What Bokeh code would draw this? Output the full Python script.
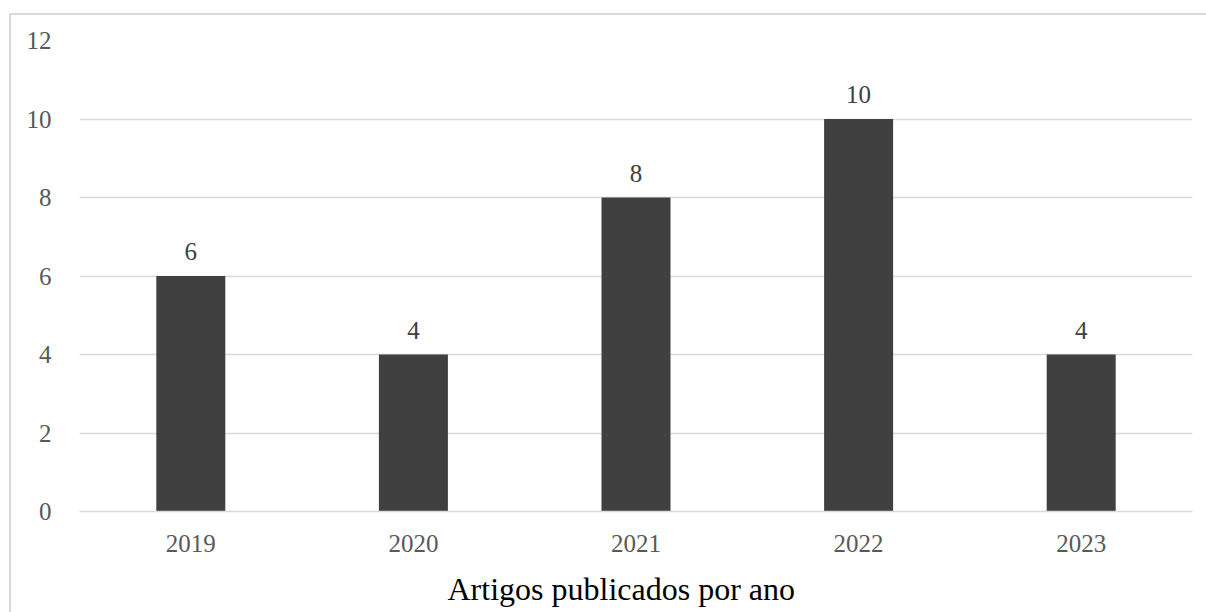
from bokeh.plotting import figure
from bokeh.models import ColumnDataSource, FactorRange, Range1d, LabelSet, SingleIntervalTicker, Title
from bokeh.embed import file_html
from bokeh.resources import INLINE

years = ["2019", "2020", "2021", "2022", "2023"]
counts = [6, 4, 8, 10, 4]
title_text = "Artigos publicados por ano"

FONT = "Liberation Serif"

src = ColumnDataSource(dict(x=years, y=counts, lbl=[str(c) for c in counts]))

p = figure(x_range=FactorRange(*years, range_padding=0), y_range=Range1d(0, 12),
           width=1198, height=603, output_backend="svg", toolbar_location=None,
           min_border_left=68, min_border_right=19, min_border_top=25, min_border_bottom=109)
p.styles = {"border-left": "2px solid #d9d9d9", "border-top": "2px solid #d9d9d9",
            "border-right": "0px none", "border-bottom": "0px none",
            "box-sizing": "content-box", "overflow": "hidden",
            "margin-left": "9px", "margin-top": "13px",
            "margin-bottom": "-24px", "margin-right": "-40px"}
p.outline_line_color = None
p.background_fill_color = "white"
p.border_fill_color = "white"

p.vbar(x="x", top="y", width=0.31, source=src, color="#404040", line_color=None)

labels = LabelSet(x="x", y="y", text="lbl", source=src, y_offset=16, text_align="center",
                  text_baseline="bottom", text_font=FONT, text_font_size="25px",
                  text_color="#404040")
p.add_layout(labels)

p.yaxis.ticker = SingleIntervalTicker(interval=2)
p.yaxis.axis_line_color = None
p.yaxis.major_tick_line_color = None
p.yaxis.minor_tick_line_color = None
p.yaxis.major_label_standoff = 22
p.yaxis.major_label_text_font = FONT
p.yaxis.major_label_text_font_size = "25px"
p.yaxis.major_label_text_color = "#595959"

p.xaxis.axis_line_color = "#d9d9d9"
p.xaxis.axis_line_width = 1.5
p.xaxis.major_tick_line_color = None
p.xaxis.minor_tick_line_color = None
p.xaxis.major_label_standoff = 17
p.xaxis.major_label_text_font = FONT
p.xaxis.major_label_text_font_size = "25px"
p.xaxis.major_label_text_color = "#595959"

t = Title(text=title_text, align="left", offset=368, standoff=28,
          text_font=FONT, text_font_size="32px", text_font_style="normal",
          text_color="#000000")
p.add_layout(t, "below")

p.xgrid.grid_line_color = None
p.ygrid.grid_line_color = "#d9d9d9"
p.ygrid.grid_line_width = 1.5

open("out.html", "w").write(file_html(p, INLINE))
